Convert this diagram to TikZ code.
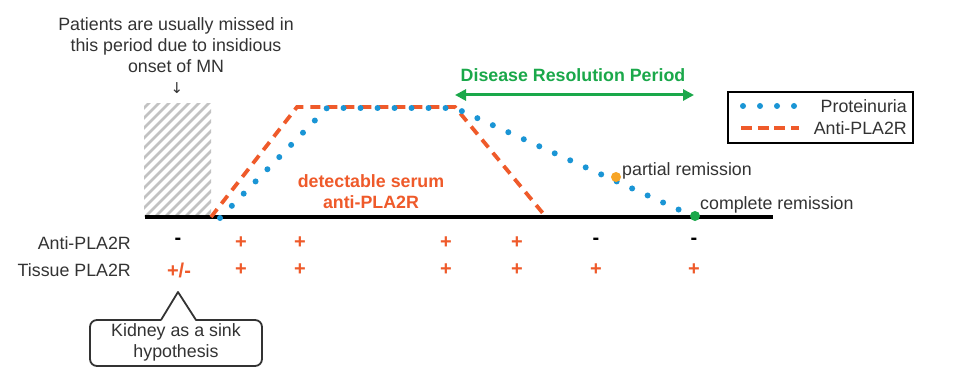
\documentclass[tikz,border=0pt]{standalone}
\usepackage{fontspec}
\setmainfont{Liberation Sans}
\newfontfamily\symfont{DejaVu Sans}
\usetikzlibrary{arrows.meta}
\definecolor{txt}{HTML}{333333}
\definecolor{orng}{HTML}{EF5A2A}
\definecolor{blu}{HTML}{1A95D5}
\definecolor{grn}{HTML}{1AA84A}
\definecolor{yel}{HTML}{F7A526}
\definecolor{hatch}{HTML}{C2C2C2}
\tikzset{
  lbl/.style={font=\fontsize{17.8}{21}\selectfont, text=txt, inner sep=0pt},
  sym/.style={font=\fontsize{20}{22}\selectfont\bfseries, text=orng, inner sep=0pt},
  msym/.style={font=\fontsize{20}{22}\selectfont\bfseries, text=black, inner sep=0pt},
  prot/.style={blu, line width=6pt, line cap=round, dash pattern=on 0pt off 17pt},
  anti/.style={orng, line width=3.8pt, dash pattern=on 10pt off 7pt},
}
\begin{document}
\begin{tikzpicture}[x=1pt,y=-1pt]
\useasboundingbox[fill=white] (0,0) rectangle (960,374);
% hatched box
\begin{scope}
\clip (144,104) rectangle (211,217);
\foreach \i in {-130,-120,...,80} {
  \draw[hatch, line width=2.6pt] (145+\i,217) -- ++(130,-130);
}
\end{scope}
% top note
\node[lbl, align=center] (note) at (176,45) {Patients are usually missed in\\[0pt]this period due to insidious\\[0pt]onset of MN};
\node[font=\symfont\fontsize{15}{18}\selectfont, text=txt, inner sep=0pt] (down) at (177,88) {↓};
% axis
\coordinate (ax0) at (145,217);
\coordinate (ax1) at (773,217);
\draw[black, line width=3.2pt] (ax0) -- (ax1);
% anti-PLA2R curve
\coordinate (a0) at (211,217);
\coordinate (a1) at (297,107);
\coordinate (a2) at (455,107);
\coordinate (a3) at (546,217);
\draw[anti] (a0) -- (a1) -- (a2) -- (a3);
% proteinuria curve
\coordinate (p0) at (220,218);
\coordinate (p1) at (327,108);
\coordinate (p2) at (455,108);
\coordinate (p3) at (695,217);
\draw[prot] (p0) -- (p1) -- (p2) -- (p3);
% remission points
\node[circle, fill=yel, minimum size=10pt, inner sep=0pt] (pr) at (616,177) {};
\node[lbl, anchor=west] (prt) at (622,171) {partial remission};
\node[circle, fill=grn, minimum size=10pt, inner sep=0pt] (cr) at (695,216) {};
\node[lbl, anchor=west] (crt) at (700,205) {complete remission};
% detectable serum
\node[lbl, align=center, text=orng, font=\fontsize{17.8}{21}\selectfont\bfseries] (det) at (371,192) {detectable serum\\anti-PLA2R};
% disease resolution
\node[lbl, text=grn, font=\fontsize{17.8}{20}\selectfont\bfseries] (drp) at (573,75) {Disease Resolution Period};
\coordinate (dr0) at (455,95);
\coordinate (dr1) at (694,95);
\draw[grn, line width=3pt, {Triangle[length=11pt,width=11pt]}-{Triangle[length=11pt,width=11pt]}] (dr0) -- (dr1);
% legend
\node[draw=black, line width=2.5pt, minimum width=185pt, minimum height=51pt, inner sep=0pt] (leg) at (820.5,117.5) {};
\coordinate (lp0) at (743,106);
\coordinate (lp1) at (797,106);
\draw[prot] (lp0) -- (lp1);
\coordinate (la0) at (741,128);
\coordinate (la1) at (799,128);
\draw[anti, dash pattern=on 11pt off 5.7pt] (la0) -- (la1);
\node[lbl, anchor=east] (lt1) at (907,106) {Proteinuria};
\node[lbl, anchor=east] (lt2) at (907,128) {Anti-PLA2R};
% row labels
\node[lbl, anchor=east] (r1) at (131,243) {Anti-PLA2R};
\node[lbl, anchor=east] (r2) at (131,270) {Tissue PLA2R};
% table symbols
\node[msym] (c1a) at (178,241) {-};
\node[sym] (c2a) at (241,243) {+};
\node[sym] (c3a) at (300,243) {+};
\node[sym] (c4a) at (446,243) {+};
\node[sym] (c5a) at (517,243) {+};
\node[msym] (c6a) at (596,241) {-};
\node[msym] (c7a) at (694,241) {-};
\node[sym] (c1b) at (179,270) {+/-};
\node[sym] (c2b) at (241,270) {+};
\node[sym] (c3b) at (300,270) {+};
\node[sym] (c4b) at (446,270) {+};
\node[sym] (c5b) at (517,270) {+};
\node[sym] (c6b) at (596,270) {+};
\node[sym] (c7b) at (694,270) {+};
% callout
\node[lbl, align=center] (kid) at (176,342) {Kidney as a sink\\hypothesis};
\coordinate (tip) at (178,292);
\draw[txt, line width=1.8pt, line join=round] (161,320) -- (tip) -- (196,320)
  [rounded corners=7pt] -- (262,320) -- (262,366) -- (90,366) -- (90,320) -- (161,320);
\end{tikzpicture}
\end{document}
